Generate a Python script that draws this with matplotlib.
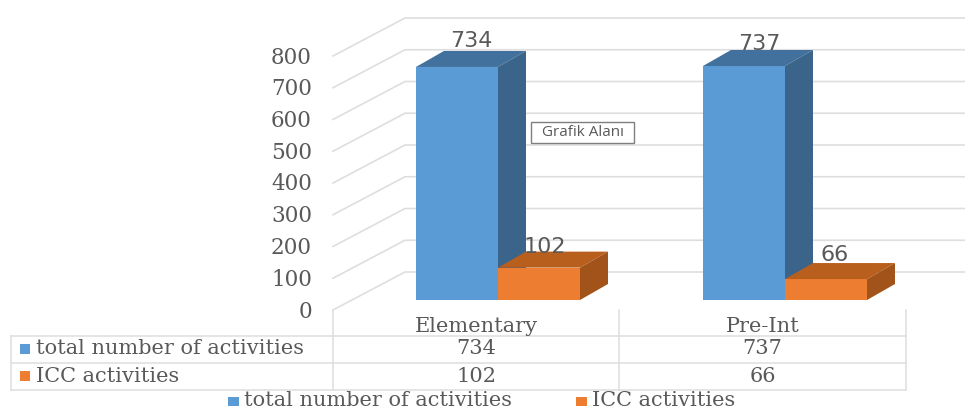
import matplotlib
matplotlib.use('Agg')
import matplotlib.pyplot as plt
from matplotlib.patches import Rectangle

categories = ['Elementary', 'Pre-Int']
series_names = ['total number of activities', 'ICC activities']
total_activities = [734, 737]
icc_activities = [102, 66]
y_ticks = [0, 100, 200, 300, 400, 500, 600, 700, 800]

blue = ['#5b9bd5', '#41719c', '#3a6489']  # front, top, side
orange = ['#ed7d31', '#b85f1e', '#a2531a']
grey_text = '#595959'
grey_line = '#dedede'

W, H = 965, 408
px_x = 287.0  # pixels per category
px_y = 0.3175  # pixels per unit of value
base_x, base_y = 498, 300  # pixel position of category 0, value 0
bar_w = 82 / px_x
depth_x, depth_y = 28 / px_x, 16 / px_y  # bar depth in data units

fig = plt.figure(figsize=(W / 100, H / 100), dpi=100)

# data axes fill the figure so the 3D offsets can go in data units
ax = fig.add_axes([0, 0, 1, 1])
ax.set_xlim(-base_x / px_x, (W - base_x) / px_x)
ax.set_ylim((base_y - H) / px_y, base_y / px_y)
ax.axis('off')

# overlay in pixels for the table and the legend
px = fig.add_axes([0, 0, 1, 1], zorder=5)
px.set_xlim(0, W)
px.set_ylim(H, 0)
px.axis('off')
px.patch.set_alpha(0)


def to_x(p):
    return (p - base_x) / px_x


# the walls: front edge of ticks is 10px below the bars, back wall is 28px above
front_off = -10 / px_y
back_off = 28 / px_y
tick_off = -11.5 / px_y
for t in y_ticks:
    ax.plot([to_x(333), to_x(405), to_x(965)],
            [t + front_off, t + back_off, t + back_off],
            color=grey_line, lw=1.2, zorder=1)
    ax.text(to_x(312), t + tick_off, str(t), ha='right', va='center',
            family='DejaVu Serif', fontsize=15.5, color=grey_text)


def draw_bars(xs, values, cols):
    ax.bar(xs, values, bar_w, align='edge', color=cols[0], zorder=3)
    for x, v in zip(xs, values):
        ax.fill([x, x + depth_x, x + bar_w + depth_x, x + bar_w],
                [v, v + depth_y, v + depth_y, v], color=cols[1], lw=0, zorder=3)
        ax.fill([x + bar_w, x + bar_w + depth_x, x + bar_w + depth_x, x + bar_w],
                [v, v + depth_y, depth_y, 0], color=cols[2], lw=0, zorder=3)


positions = list(range(len(categories)))
draw_bars([p - bar_w for p in positions], total_activities, blue)
draw_bars(positions, icc_activities, orange)

# value labels sit around the bar tops
label_nudge = [[(-27, 26), (-26, 22), ], [(47, 21), (50, 24)]]
for values, nudges in zip([total_activities, icc_activities], label_nudge):
    for p, v, (dx, dy) in zip(positions, values, nudges):
        ax.annotate(str(v), (p, v), xytext=(dx * 0.72, dy * 0.72), textcoords='offset points',
                    ha='center', va='center', fontsize=16, color=grey_text, zorder=4)

# data table
table_col = [333, 619, 906]
table_row = [335.5, 363, 390]
for y in table_row:
    px.plot([11, 906], [y, y], color=grey_line, lw=1.1)
for x in table_col:
    px.plot([x, x], [310, 390], color=grey_line, lw=1.1)
px.plot([11, 11], [335.5, 390], color=grey_line, lw=1.1)

serif = dict(family='DejaVu Serif', fontsize=15, color=grey_text, va='center')
for i, name in enumerate(categories):
    cx = (table_col[i] + table_col[i + 1]) / 2
    px.text(cx, 326, name, ha='center', **serif)
    px.text(cx, 349, str(total_activities[i]), ha='center', **serif)
    px.text(cx, 376, str(icc_activities[i]), ha='center', **serif)

row_y = [349, 376]
for name, cols, y in zip(series_names, [blue, orange], row_y):
    px.add_patch(Rectangle((20, y - 5), 10, 10, color=cols[0], lw=0))
    px.text(36, y, name, ha='left', **serif)

# legend along the bottom
legend_x = [228, 576]
for name, cols, x in zip(series_names, [blue, orange], legend_x):
    px.add_patch(Rectangle((x, 397), 11, 9, color=cols[0], lw=0))
    px.text(x + 16, 400, name, ha='left', **serif)

# the tooltip left in the screenshot
px.add_patch(Rectangle((531, 122), 103, 21, facecolor='white', edgecolor='#7f7f7f', lw=1))
px.text(582.5, 132.5, 'Grafik Alanı', ha='center', va='center',
        family='Open Sans', fontsize=11, color=grey_text)

fig.savefig('out.png', dpi=100)
